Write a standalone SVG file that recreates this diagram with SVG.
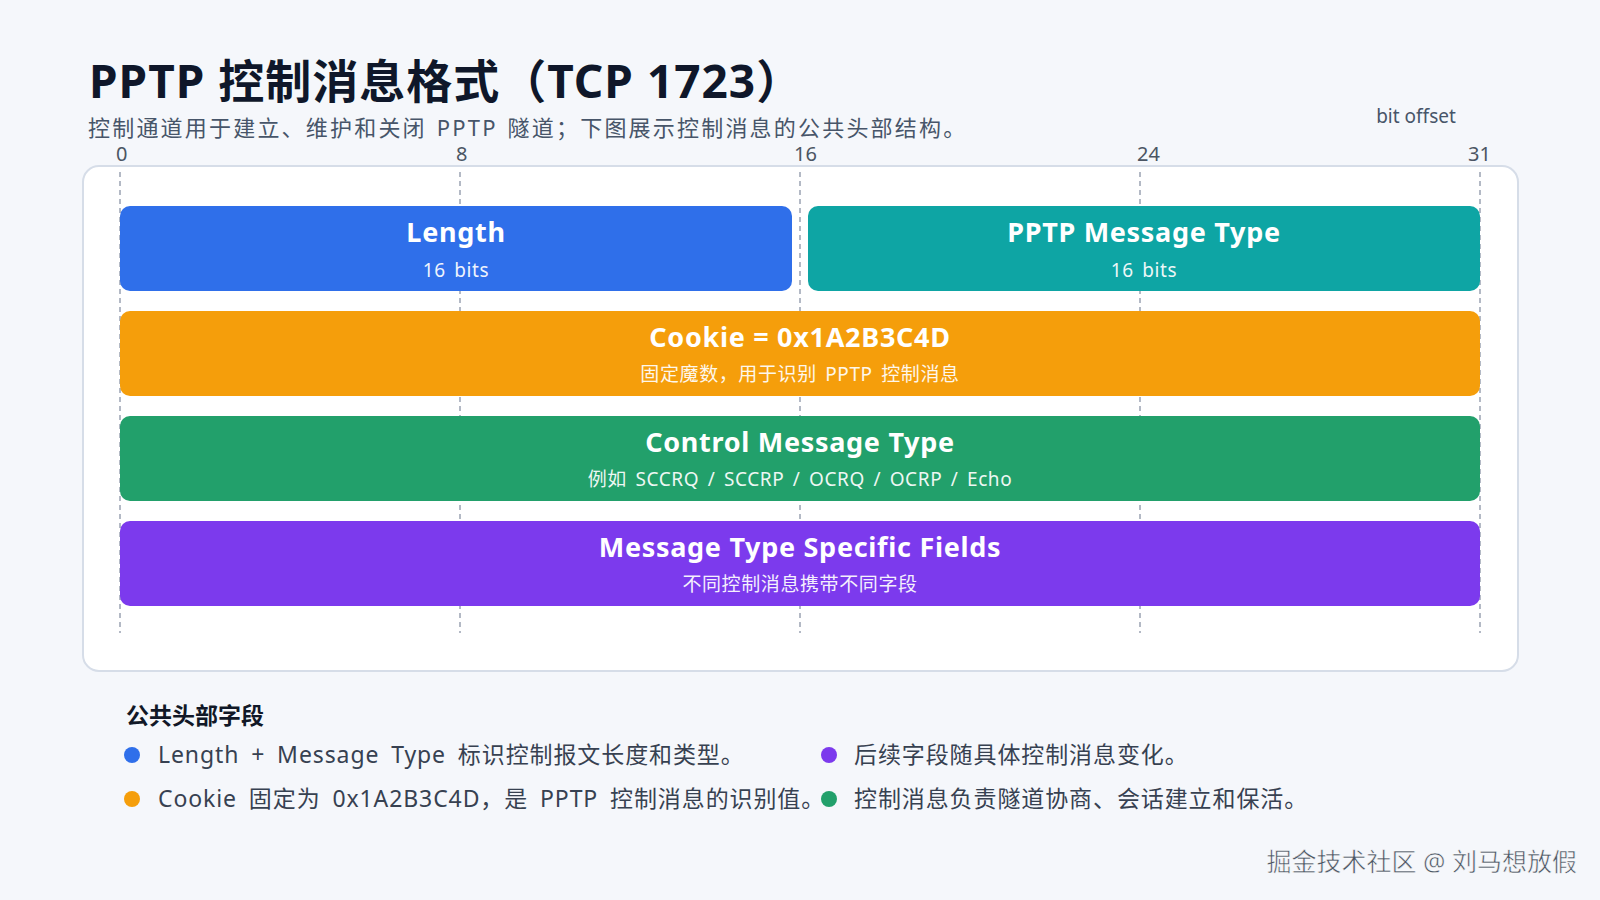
<svg xmlns="http://www.w3.org/2000/svg" width="1600" height="900" viewBox="0 0 1600 900">
<style>
text{font-family:"Noto Sans","Noto Sans CJK SC",sans-serif}
.ax{font-family:"DejaVu Sans Mono","Liberation Mono",monospace;font-size:20px;fill:#4b5563}
.ft{font-size:27px;font-weight:700;fill:#fff;text-anchor:middle;letter-spacing:0.7px}
.fs{font-size:19px;fill:#fff;text-anchor:middle;opacity:.92;letter-spacing:0.6px;word-spacing:3px}
.grid{stroke:#9aa3b2;stroke-width:1.5;stroke-dasharray:5 4}
.lg{font-size:23px;fill:#374151;letter-spacing:0.9px;word-spacing:5px}
</style>
<rect width="1600" height="900" fill="#f5f7fb"/>
<text x="89" y="98" font-size="46" font-weight="700" fill="#0f172a" letter-spacing="1">PPTP 控制消息格式（TCP 1723）</text>
<text x="88" y="136" font-size="22" fill="#475569" letter-spacing="2.2" word-spacing="2">控制通道用于建立、维护和关闭 PPTP 隧道；下图展示控制消息的公共头部结构。</text>
<text x="1416" y="123" font-size="19" fill="#475569" text-anchor="middle">bit offset</text>
<g class="ax"><text x="116" y="161">0</text><text x="456" y="161">8</text><text x="794" y="161">16</text><text x="1137" y="161">24</text><text x="1468" y="161">31</text></g>
<rect x="83" y="166" width="1435" height="505" rx="16" fill="#fff" stroke="#d6dde8" stroke-width="2"/>
<g id="connectors">
<line class="grid" x1="120" y1="172" x2="120" y2="633"/><line class="grid" x1="460" y1="172" x2="460" y2="633"/><line class="grid" x1="800" y1="172" x2="800" y2="633"/><line class="grid" x1="1140" y1="172" x2="1140" y2="633"/><line class="grid" x1="1480" y1="172" x2="1480" y2="633"/>
</g>
<g id="length"><rect x="120" y="206" width="672" height="85" rx="10" fill="#2f6fea"/><text class="ft" x="456" y="242">Length</text><text class="fs" x="456" y="277">16 bits</text></g>
<g id="msgtype"><rect x="808" y="206" width="672" height="85" rx="10" fill="#0ea5a4"/><text class="ft" x="1144" y="242">PPTP Message Type</text><text class="fs" x="1144" y="277">16 bits</text></g>
<g id="cookie"><rect x="120" y="311" width="1360" height="85" rx="10" fill="#f59e0b"/><text class="ft" x="800" y="347">Cookie = 0x1A2B3C4D</text><text class="fs" x="800" y="381">固定魔数，用于识别 PPTP 控制消息</text></g>
<g id="ctrl"><rect x="120" y="416" width="1360" height="85" rx="10" fill="#22a06b"/><text class="ft" x="800" y="452">Control Message Type</text><text class="fs" x="800" y="486">例如 SCCRQ / SCCRP / OCRQ / OCRP / Echo</text></g>
<g id="specific"><rect x="120" y="521" width="1360" height="85" rx="10" fill="#7c3aed"/><text class="ft" x="800" y="557">Message Type Specific Fields</text><text class="fs" x="800" y="591">不同控制消息携带不同字段</text></g>
<g id="legend">
<text x="126" y="724" font-size="23" font-weight="700" fill="#111827">公共头部字段</text>
<circle cx="132" cy="755" r="8" fill="#2f6fea"/><text class="lg" x="158" y="763">Length + Message Type 标识控制报文长度和类型。</text>
<circle cx="132" cy="799" r="8" fill="#f59e0b"/><text class="lg" x="158" y="807">Cookie 固定为 0x1A2B3C4D，是 PPTP 控制消息的识别值。</text>
<circle cx="829" cy="755" r="8" fill="#7c3aed"/><text class="lg" x="854" y="763">后续字段随具体控制消息变化。</text>
<circle cx="829" cy="799" r="8" fill="#22a06b"/><text class="lg" x="854" y="807">控制消息负责隧道协商、会话建立和保活。</text>
</g>
<text x="1577" y="871" font-size="25" fill="#4b5563" text-anchor="end" stroke="#fff" stroke-width="0.5">掘金技术社区 @ 刘马想放假</text>
</svg>
